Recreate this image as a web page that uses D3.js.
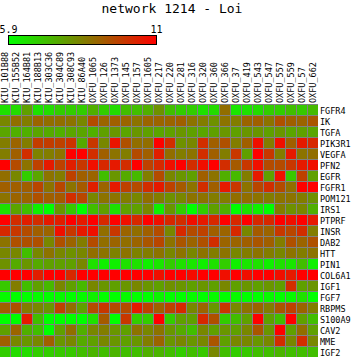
<!DOCTYPE html>
<html lang="en">
<head>
<meta charset="UTF-8">
<title>network 1214 - Loi</title>
<style>
  body { margin: 0; background: #fff; }
  text { font-family: "DejaVu Sans Mono", monospace; fill: #000; }
</style>
</head>
<body>
<script src="https://d3js.org/d3.v7.min.js"></script>
<script>
// columns (samples) and rows (genes)
const samples = ["KIU_101B88", "KIU_155B52", "KIU_164B81", "KIU_188B13", "KIU_303C36", "KIU_304C89",
    "KIU_308C93", "KIU_86A40", "OXFU_1065", "OXFU_126", "OXFU_1373", "OXFU_145", "OXFU_157",
    "OXFU_1605", "OXFU_217", "OXFU_220", "OXFU_281", "OXFU_316", "OXFU_320", "OXFU_360",
    "OXFU_366", "OXFU_37", "OXFU_419", "OXFU_543", "OXFU_547", "OXFU_557", "OXFU_559",
    "OXFU_57", "OXFU_662"];
const genes = ["FGFR4", "IK", "TGFA", "PIK3R1", "VEGFA", "PFN2", "EGFR", "FGFR1", "POM121", "IRS1",
    "PTPRF", "INSR", "DAB2", "HTT", "PIN1", "COL6A1", "IGF1", "FGF7", "RBPMS", "S100A9",
    "CAV2", "MME", "IGF2"];
const colorDomain = [5.9, 11];
const legendTicks = ["5.9", "11"];

// expression, one row per gene, one value per sample
const values = [
  [6.5,6.6,7.8,6.5,6.6,6.9,6.9,6.9,7.5,6.9,6.6,7.2,7.2,7.5,8.1,7.2,6.9,6.9,6.5,6.6,8.8,6.4,6.5,6.6,6.9,6.9,7.2,7.0,7.3],
  [8.3,8.8,8.5,9.0,8.8,8.8,8.7,8.3,9.5,9.0,9.1,9.0,8.7,9.0,9.0,9.0,9.1,8.7,8.5,8.1,8.7,8.5,9.0,9.1,8.7,9.4,9.1,9.0,9.3],
  [7.7,7.5,7.5,7.7,7.6,7.5,7.7,7.7,7.5,7.8,8.0,7.7,8.0,7.8,7.7,7.8,8.0,7.8,7.7,7.8,8.0,7.8,8.0,8.0,7.8,8.0,7.7,7.8,7.7],
  [8.5,9.0,8.5,9.8,9.8,9.7,10.0,7.6,9.9,8.3,10.6,9.4,8.8,8.8,11.0,10.1,8.1,8.3,10.1,9.1,9.4,8.5,9.1,10.7,8.5,10.7,9.1,10.5,10.2],
  [8.5,9.1,10.1,8.4,8.5,8.7,11.0,11.0,10.1,9.1,8.7,8.5,9.5,9.1,10.4,8.8,8.5,8.7,10.1,9.1,8.5,9.9,7.8,11.0,9.9,8.5,10.5,8.7,8.8],
  [11.0,9.5,8.7,9.7,10.5,9.7,10.4,9.9,10.7,10.2,10.5,10.1,11.0,9.7,10.2,10.7,11.0,10.1,10.7,11.0,10.1,9.2,9.9,10.7,9.5,9.5,9.9,10.5,10.7],
  [8.8,8.3,6.9,7.7,8.7,8.5,9.7,9.1,9.0,7.2,8.0,7.6,7.3,8.5,9.5,8.3,8.0,7.8,9.1,8.7,7.5,7.3,8.5,10.5,7.8,10.7,7.0,9.7,7.8],
  [9.1,9.1,9.1,9.6,8.7,9.6,8.7,9.2,10.4,9.0,10.5,9.7,9.5,10.1,10.5,9.7,9.2,8.7,10.1,9.1,10.5,9.9,8.7,9.6,10.1,9.5,8.8,11.0,11.0],
  [8.7,9.0,9.0,9.4,9.1,9.2,10.1,9.6,8.3,8.7,8.7,8.5,8.3,8.8,8.5,8.1,8.3,8.7,8.7,8.5,8.5,8.8,8.8,8.7,8.5,8.7,8.7,8.5,8.1],
  [6.5,7.7,7.2,6.2,5.9,8.0,7.0,5.9,7.2,7.8,6.5,7.8,7.8,8.3,6.2,8.0,6.9,5.9,6.9,7.8,7.5,5.9,6.5,6.2,5.9,8.5,8.1,8.3,7.5],
  [11.0,10.1,10.4,10.1,10.5,10.4,11.0,10.5,11.0,10.2,11.0,10.7,10.2,11.0,10.7,10.2,10.1,10.7,10.5,10.2,11.0,10.2,11.0,10.2,10.2,11.0,10.7,11.0,10.5],
  [10.2,9.9,9.5,9.1,9.0,10.7,9.9,10.5,10.7,8.8,9.9,9.0,8.8,9.1,9.5,8.3,10.2,9.5,9.7,9.1,9.0,10.2,8.3,9.2,9.0,9.9,9.6,10.1,8.5],
  [8.7,9.4,9.4,9.4,8.3,9.4,9.0,8.5,9.5,8.8,9.0,8.8,9.0,9.3,9.6,8.7,9.3,9.0,9.4,10.1,9.0,9.0,9.1,9.3,9.1,8.5,9.4,9.0,9.4],
  [8.3,8.3,7.2,8.3,8.7,8.3,8.1,8.3,8.8,8.7,8.4,8.7,8.4,8.5,8.7,8.3,8.7,8.3,8.7,8.5,8.7,8.3,8.5,8.7,8.5,8.3,8.7,8.5,8.7],
  [8.1,7.6,8.0,7.6,7.8,7.8,7.8,8.3,6.5,6.2,6.2,6.5,6.5,6.2,6.4,6.9,6.5,6.4,6.2,6.5,6.9,6.2,6.4,6.5,6.2,6.5,6.4,7.2,6.2],
  [11.0,11.0,11.0,10.4,11.0,11.0,10.2,11.0,11.0,11.0,11.0,11.0,11.0,11.0,10.7,11.0,11.0,10.8,11.0,11.0,10.7,11.0,10.7,11.0,11.0,10.7,10.5,11.0,11.0],
  [7.0,8.5,7.2,7.8,7.3,8.3,7.8,7.3,8.3,8.0,7.8,8.0,8.3,8.0,7.8,8.1,8.0,7.8,8.0,7.8,8.3,7.8,8.0,7.8,8.0,7.8,10.1,7.8,8.0],
  [6.0,5.9,5.9,6.0,5.9,6.0,5.9,6.0,6.2,5.9,5.9,6.0,5.9,5.9,6.1,5.9,5.9,6.0,5.9,6.0,5.9,6.0,5.9,5.9,6.0,5.9,6.0,6.5,5.9],
  [9.1,9.4,8.5,8.3,8.0,9.7,8.8,7.8,9.5,9.9,9.5,9.5,10.5,9.7,9.1,9.7,10.2,8.3,9.0,8.0,9.9,8.3,8.7,9.0,8.5,9.3,9.7,9.0,8.5],
  [5.9,5.9,10.5,7.2,5.9,5.9,5.9,5.9,6.5,9.2,5.9,9.9,6.9,6.9,11.0,6.9,7.8,7.8,10.2,9.4,6.9,7.2,7.8,11.0,7.8,7.2,11.0,7.8,7.2],
  [7.8,9.0,7.5,7.2,5.9,7.8,8.8,7.5,8.3,8.5,8.0,7.8,8.7,8.3,8.7,8.0,7.6,7.2,8.3,7.8,8.0,7.8,8.3,9.3,8.0,11.0,7.8,8.8,7.8],
  [9.1,8.3,8.0,8.3,9.1,8.0,8.3,7.6,7.8,8.3,8.0,7.8,8.0,8.5,9.0,8.0,8.3,8.0,8.3,9.3,7.8,8.3,8.3,8.0,8.3,10.1,8.3,10.1,8.3],
  [6.9,6.6,6.6,6.9,6.9,7.0,7.0,7.2,7.4,7.2,7.4,7.2,7.2,7.5,7.4,7.2,6.9,7.2,7.0,8.3,7.2,6.9,7.0,7.2,7.2,7.4,7.2,7.2,7.2]
];

const width = 351, height = 359;

const svg = d3.select("body").append("svg")
    .attr("width", width)
    .attr("height", height);

const color = d3.scaleLinear().domain(colorDomain).range(["#00ff00", "#ff0000"]);

// title
svg.append("text")
    .attr("x", 172)
    .attr("y", 13)
    .attr("text-anchor", "middle")
    .style("font-size", "13px")
    .text("network 1214 - Loi");

// colour key
const defs = svg.append("defs");
const grad = defs.append("linearGradient").attr("id", "key");
grad.append("stop").attr("offset", "0%").attr("stop-color", color(colorDomain[0]));
grad.append("stop").attr("offset", "100%").attr("stop-color", color(colorDomain[1]));

const keyX = d3.scaleLinear().domain(colorDomain).range([8.5, 156.5]);
svg.append("rect")
    .attr("x", keyX(colorDomain[0]))
    .attr("y", 35.5)
    .attr("width", keyX(colorDomain[1]) - keyX(colorDomain[0]))
    .attr("height", 9)
    .attr("fill", "url(#key)")
    .attr("stroke", "#000")
    .attr("stroke-width", 1);

svg.selectAll(".keylab")
    .data(legendTicks)
    .enter().append("text")
    .attr("class", "keylab")
    .attr("x", d => keyX(+d))
    .attr("y", 33)
    .attr("text-anchor", "middle")
    .style("font-size", "10px")
    .text(d => d);

// heatmap
const x = d3.scaleBand().domain(samples).range([-1, 318]);
const y = d3.scaleBand().domain(genes).range([104, 357]);

svg.append("rect")
    .attr("x", -1)
    .attr("y", 104)
    .attr("width", 319)
    .attr("height", 253)
    .attr("fill", "#808080");

const cells = [];
genes.forEach((g, i) => samples.forEach((s, j) => cells.push({g: g, s: s, v: values[i][j]})));

svg.selectAll(".cell")
    .data(cells)
    .enter().append("rect")
    .attr("class", "cell")
    .attr("x", d => x(d.s) + 1)
    .attr("y", d => y(d.g) + 1)
    .attr("width", x.bandwidth() - 1)
    .attr("height", y.bandwidth() - 1)
    .attr("fill", d => color(d.v));

// column labels, reading upwards from just above the grid
svg.selectAll(".collab")
    .data(samples)
    .enter().append("text")
    .attr("class", "collab")
    .attr("transform", d => "translate(" + (x(d) + 9) + ",103) rotate(-90)")
    .attr("text-anchor", "start")
    .style("font-size", "8.5px")
    .text(d => d);

// row labels
svg.selectAll(".rowlab")
    .data(genes)
    .enter().append("text")
    .attr("class", "rowlab")
    .attr("x", 320)
    .attr("y", d => y(d) + 9.5)
    .style("font-size", "8.5px")
    .text(d => d);
</script>
</body>
</html>
